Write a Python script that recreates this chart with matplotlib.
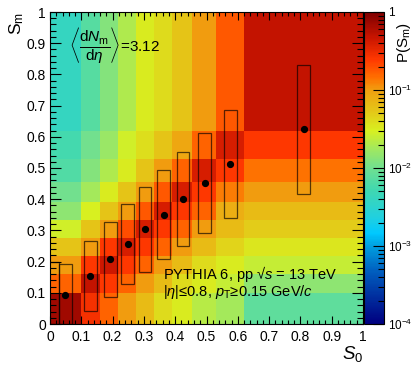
import matplotlib as mpl
mpl.use('Agg')
import matplotlib.pyplot as plt
import numpy as np
from matplotlib.colors import LinearSegmentedColormap, LogNorm
from matplotlib.patches import Rectangle
from matplotlib.ticker import MultipleLocator, LogLocator, NullFormatter, FuncFormatter

plt.rcParams['font.family'] = ['Liberation Sans', 'DejaVu Sans']
plt.rcParams['mathtext.fontset'] = 'custom'
plt.rcParams['mathtext.rm'] = 'Liberation Sans'
plt.rcParams['mathtext.it'] = 'Liberation Sans:italic'
plt.rcParams['mathtext.bf'] = 'Liberation Sans:bold'

# bin edges (same for S0 and Sm)
edges = [0.0, 0.1, 0.16, 0.218, 0.275, 0.333, 0.391, 0.455, 0.53, 0.62, 1.0]

# P(Sm) per S0 column, rows from bottom (Sm bin 0) to top
col0 = [0.71, 0.16, 0.10, 0.056, 0.028, 0.014, 0.010, 0.0065, 0.0056, 0.0040]
col1 = [0.28, 0.50, 0.25, 0.10, 0.056, 0.030, 0.018, 0.0126, 0.010, 0.0071]
col2 = [0.16, 0.25, 0.45, 0.25, 0.10, 0.056, 0.032, 0.020, 0.016, 0.0126]
col3 = [0.10, 0.16, 0.25, 0.40, 0.20, 0.10, 0.056, 0.032, 0.028, 0.020]
col4 = [0.063, 0.10, 0.16, 0.25, 0.40, 0.18, 0.10, 0.056, 0.038, 0.032]
col5 = [0.040, 0.063, 0.10, 0.16, 0.25, 0.40, 0.18, 0.10, 0.056, 0.040]
col6 = [0.032, 0.040, 0.063, 0.10, 0.16, 0.25, 0.40, 0.16, 0.089, 0.056]
col7 = [0.022, 0.032, 0.040, 0.063, 0.10, 0.16, 0.25, 0.40, 0.16, 0.10]
col8 = [0.018, 0.025, 0.032, 0.045, 0.063, 0.079, 0.13, 0.25, 0.40, 0.18]
col9 = [0.0079, 0.014, 0.025, 0.035, 0.050, 0.063, 0.10, 0.14, 0.25, 0.50]

# mean Sm vs S0 (dots) and box ranges
dot_x = [0.049, 0.129, 0.193, 0.248, 0.304, 0.363, 0.425, 0.494, 0.576, 0.81]
dot_y = [0.093, 0.154, 0.207, 0.256, 0.304, 0.350, 0.400, 0.451, 0.513, 0.624]
box_x = [0.01, 0.05, 0.129, 0.193, 0.248, 0.304, 0.363, 0.425, 0.494, 0.576, 0.81]
box_lo = [0.0, 0.0, 0.042, 0.086, 0.128, 0.168, 0.207, 0.250, 0.293, 0.341, 0.417]
box_hi = [0.198, 0.192, 0.267, 0.328, 0.385, 0.438, 0.494, 0.550, 0.611, 0.686, 0.829]

cols = [col0, col1, col2, col3, col4, col5, col6, col7, col8, col9]
P = np.array(cols).T

# ROOT-like rainbow palette
cmap = LinearSegmentedColormap.from_list('rootrain', [
    (0.0, '#000080'), (0.09, '#0030a0'), (0.17, '#0060c0'), (0.25, '#00a0e0'),
    (0.29, '#00c8ff'), (0.34, '#20d0e0'), (0.43, '#40d8b0'), (0.5, '#70e090'),
    (0.56, '#a0e860'), (0.62, '#d8f020'), (0.68, '#e4c818'), (0.75, '#f0a010'),
    (0.79, '#ff7000'), (0.85, '#ff3800'), (0.92, '#c81400'), (1.0, '#800000')])

fig = plt.figure(figsize=(4.15, 3.69), dpi=100)
ax = fig.add_axes([50/415, 45/369, 313/415, 312/369])
cax = fig.add_axes([364/415, 45/369, 20/415, 312/369])

mesh = ax.pcolormesh(edges, edges, P, cmap=cmap, norm=LogNorm(1e-4, 1))

for x, lo, hi in zip(box_x, box_lo, box_hi):
    ax.add_patch(Rectangle((x - 0.02, lo), 0.04, hi - lo, fill=False,
                           edgecolor='black', alpha=0.65, lw=0.9, clip_on=True))
ax.plot(dot_x, dot_y, 'o', color='black', ms=4.2)

ax.set_xlim(0, 1)
ax.set_ylim(0, 1)
ax.xaxis.set_major_locator(MultipleLocator(0.1))
ax.xaxis.set_minor_locator(MultipleLocator(0.02))
ax.yaxis.set_major_locator(MultipleLocator(0.1))
ax.yaxis.set_minor_locator(MultipleLocator(0.02))
fmt = lambda v, p: ('%g' % round(v, 2))
ax.xaxis.set_major_formatter(FuncFormatter(fmt))
ax.yaxis.set_major_formatter(FuncFormatter(fmt))
ax.tick_params(which='both', direction='in', top=True, right=True, labelsize=10, width=0.8)
ax.tick_params(axis='x', which='major', length=6, pad=4)
ax.tick_params(axis='x', which='minor', length=3)
ax.tick_params(axis='y', which='major', length=8, pad=3)
ax.tick_params(axis='y', which='minor', length=4)
for s in ax.spines.values():
    s.set_linewidth(0.8)

ax.text(1.0, -0.095, r'$S_{0}$', transform=ax.transAxes, ha='right', va='center', fontsize=13.5)
ax.text(-0.105, 1.0, r'S$_{\rm m}$', transform=ax.transAxes, ha='center', va='top',
        rotation=90, fontsize=12.5)

ax.text(0.062, 0.895,
        r'$\left\langle\dfrac{\mathrm{d}N_{\mathrm{m}}}{\mathrm{d}\eta}\right\rangle$=3.12',
        transform=ax.transAxes, ha='left', va='center', fontsize=11)
ax.text(0.36, 0.160, 'PYTHIA 6, pp \u221a$s$ = 13 TeV', transform=ax.transAxes,
        ha='left', va='center', fontsize=10.5)
ax.text(0.36, 0.102, r'$|\eta|$≤0.8, $p_{\rm T}$≥0.15 GeV/$c$', transform=ax.transAxes,
        ha='left', va='center', fontsize=10.5)

cb = fig.colorbar(mesh, cax=cax)
cb.outline.set_linewidth(0.8)
cb.set_ticks([1e-4, 1e-3, 1e-2, 1e-1, 1])
cb.set_ticklabels([r'$10^{-4}$', r'$10^{-3}$', r'$10^{-2}$', r'$10^{-1}$', '1'])
cax.yaxis.set_minor_locator(LogLocator(base=10, subs=np.arange(2, 10)))
cax.yaxis.set_minor_formatter(NullFormatter())
cax.tick_params(which='both', direction='in', right=True, left=False, labelsize=8.5, width=0.8)
cax.tick_params(which='major', length=8, pad=3)
cax.tick_params(which='minor', length=4)
fig.text(404/415, 1 - 22/369, r'P(S$_{\rm m}$)', rotation=90, ha='center', va='top', fontsize=11)

plt.savefig('out.png', dpi=100)
plt.close()
